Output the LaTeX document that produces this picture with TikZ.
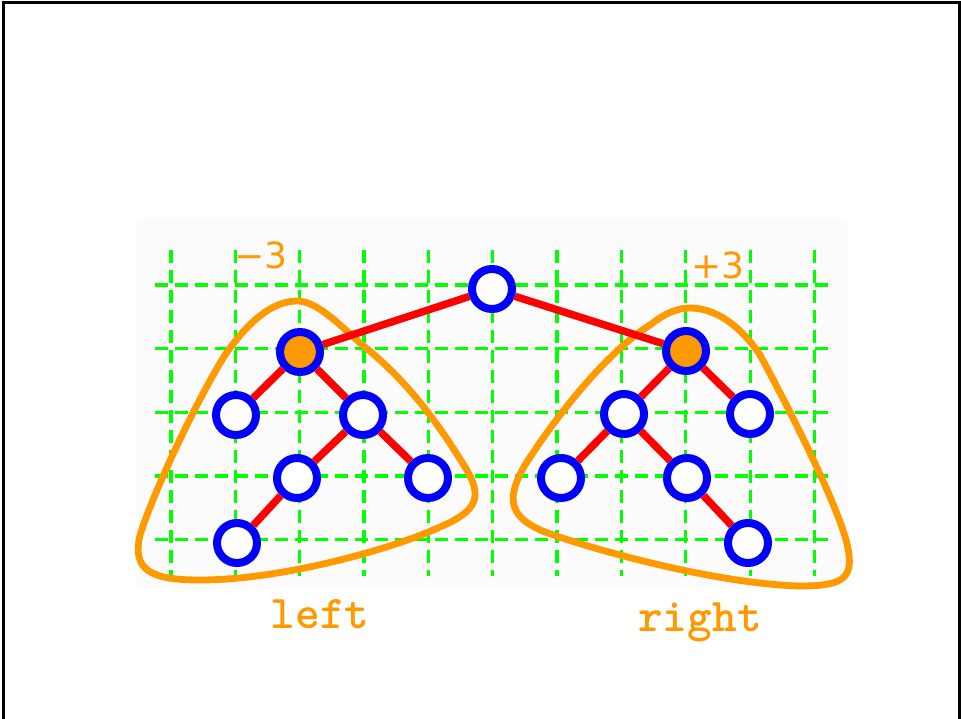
\documentclass[tikz,border=0pt]{standalone}
\usepackage{fontspec}
\newfontfamily\numfont{DejaVu Sans}
\definecolor{gorange}{HTML}{FF9900}
\definecolor{gblue}{HTML}{0000FF}
\definecolor{gred}{HTML}{FF0000}
\definecolor{ggreen}{HTML}{00FF00}
\begin{document}
\begin{tikzpicture}[x=1pt,y=-1pt,
  tnode/.style={circle, draw=gblue, line width=8pt, fill=white, minimum size=40pt, inner sep=0pt},
  hnode/.style={tnode, fill=gorange},
  tedge/.style={draw=gred, line width=7.5pt},
  gridline/.style={draw=ggreen, line width=3.3pt, dash pattern=on 13pt off 7pt},
  hull/.style={draw=gorange, line width=6.8pt},
  numlabel/.style={text=gorange, font=\numfont\fontsize{36}{40}\selectfont, inner sep=0pt},
  sidelabel/.style={text=gorange, anchor=base, font=\ttfamily\bfseries\fontsize{47}{50}\selectfont, inner sep=0pt}]
\useasboundingbox (0,0) rectangle (961,719);
\fill[white] (0,0) rectangle (961,719);
% frame
\draw[line width=3pt] (3,3) rectangle (959,730);
% light background panel
\fill[black!1.5] (137,218) rectangle (847,588);
% grid
\foreach \i in {0,...,10} {
  \draw[gridline] ({171+64.35*\i},250) -- ({171+64.35*\i},576);
}
\foreach \j in {0,...,4} {
  \draw[gridline] (155,{285+63.7*\j}) -- (828,{285+63.7*\j});
}
% hulls
\draw[hull] (297,301) .. controls (272,301) and (248,322) .. (225,355)
  .. controls (198,398) and (155,488) .. (140,535)
  .. controls (132,570) and (150,580) .. (200,580)
  .. controls (280,580) and (390,550) .. (440,527)
  .. controls (480,510) and (482,495) .. (465,467)
  .. controls (430,410) and (400,375) .. (360,343)
  .. controls (335,320) and (315,301) .. (297,301) -- cycle;
\draw[hull] (690,308) .. controls (715,308) and (740,325) .. (760,355)
  .. controls (790,410) and (835,500) .. (846,540)
  .. controls (856,578) and (845,586) .. (800,586)
  .. controls (720,584) and (600,552) .. (545,532)
  .. controls (505,516) and (508,495) .. (525,465)
  .. controls (560,410) and (610,350) .. (650,325)
  .. controls (665,313) and (678,308) .. (690,308) -- cycle;
% nodes
\node[tnode] (r) at (492,289) {};
\node[hnode] (L) at (300,352) {};
\node[tnode] (La) at (236,415) {};
\node[tnode] (Lb) at (363,415) {};
\node[tnode] (Lc) at (297,478) {};
\node[tnode] (Ld) at (428,478) {};
\node[tnode] (Le) at (237,543) {};
\node[hnode] (R) at (686,351) {};
\node[tnode] (Ra) at (624,414) {};
\node[tnode] (Rb) at (750,414) {};
\node[tnode] (Rc) at (561,478) {};
\node[tnode] (Rd) at (687,478) {};
\node[tnode] (Re) at (748,543) {};
% edges
\draw[tedge] (r) -- (L);
\draw[tedge] (r) -- (R);
\draw[tedge] (L) -- (La);
\draw[tedge] (L) -- (Lb);
\draw[tedge] (Lb) -- (Lc);
\draw[tedge] (Lb) -- (Ld);
\draw[tedge] (Lc) -- (Le);
\draw[tedge] (R) -- (Ra);
\draw[tedge] (R) -- (Rb);
\draw[tedge] (Ra) -- (Rc);
\draw[tedge] (Ra) -- (Rd);
\draw[tedge] (Rd) -- (Re);
% labels
\node[numlabel] (mthree) at (261,255) {−3};
\node[numlabel] (pthree) at (718,265) {+3};
\node[sidelabel] (lefttxt) at (320,628) {left};
\node[sidelabel] (righttxt) at (700,631) {right};
\end{tikzpicture}
\end{document}
